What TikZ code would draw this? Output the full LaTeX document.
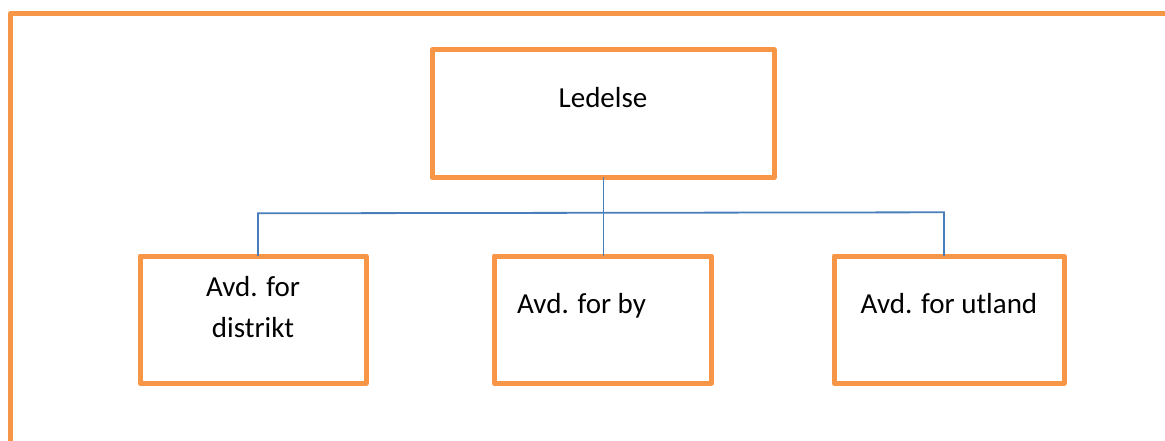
\documentclass[tikz,border=0pt]{standalone}
\usepackage{fontspec}
\setmainfont{Carlito}
\definecolor{frameorange}{HTML}{F79646}
\definecolor{linkblue}{HTML}{4A7EBB}
\begin{document}
\begin{tikzpicture}[x=1pt,y=-1pt,
  orgbox/.style={draw=frameorange,line width=5pt,line join=round,fill=white,
    inner sep=0pt,outer sep=0pt},
  label/.style={font=\fontsize{29}{41}\selectfont,inner sep=0pt,anchor=base,align=center},
  link/.style={draw=linkblue,line width=1.8pt}]
  \useasboundingbox (0,0) rectangle (1165,441);
  \fill[white] (0,0) rectangle (1165,441);
  % page frame, running out at the right and bottom edges
  \draw[draw=frameorange,line width=5pt,line join=round] (10,441) -- (10,14) -- (1165,14);

  % boxes
  \node[orgbox,minimum width=342pt,minimum height=127.5pt] (top) at (603,113.75) {};
  \node[orgbox,minimum width=226pt,minimum height=127pt] (left) at (253,319.5) {};
  \node[orgbox,minimum width=217.5pt,minimum height=127pt] (mid) at (602.75,319.5) {};
  \node[orgbox,minimum width=230pt,minimum height=127pt] (right) at (949,319.5) {};

  % box texts
  \node[label] (ttop) at (603,108) {Ledelse};
  \node[label] (tleft1) at (253,296) {Avd. for};
  \node[label] (tleft2) at (253,337) {distrikt};
  \node[label,anchor=base west] (tmid) at (517,313) {Avd. for by};
  \node[label] (tright) at (949,313) {Avd. for utland};

  % connectors
  \coordinate (bus) at (603.5,213);
  \path[link] (top.south -| bus) -- (mid.north -| bus);
  \path[link] (left.north -| 258,0) -- (258,213.3) -- (944,212.3) -- (right.north -| 944,0);
\end{tikzpicture}
\end{document}
